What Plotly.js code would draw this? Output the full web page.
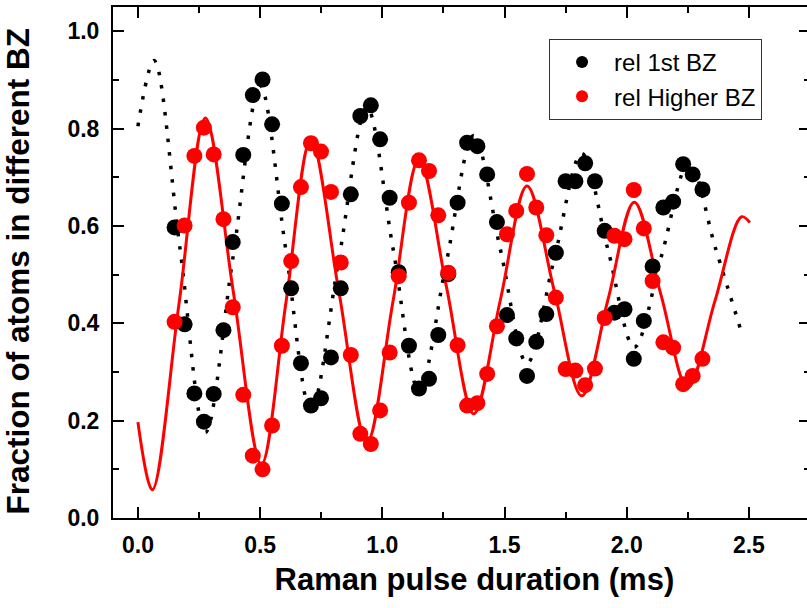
<!DOCTYPE html>
<html>
<head>
<meta charset="utf-8">
<script src="https://cdn.plot.ly/plotly-3.0.1.min.js"></script>
<style>
html,body{margin:0;padding:0;overflow:hidden;background:#fff;}
#chart{width:812px;height:608px;}
</style>
</head>
<body>
<div id="chart"></div>
<script>
// Measured data (Raman pulse duration in ms)
var tData = [0.150,0.191,0.231,0.270,0.310,0.350,0.388,0.431,0.470,0.510,0.549,0.589,0.627,0.667,0.708,0.749,0.790,0.830,0.871,0.910,0.953,0.991,1.030,1.067,1.109,1.150,1.191,1.229,1.270,1.308,1.347,1.389,1.429,1.469,1.510,1.548,1.592,1.630,1.671,1.710,1.750,1.790,1.830,1.870,1.910,1.950,1.991,2.029,2.070,2.106,2.150,2.190,2.231,2.270,2.310];
var first1BZ = [0.597,0.398,0.256,0.198,0.255,0.386,0.567,0.746,0.869,0.901,0.809,0.646,0.472,0.318,0.231,0.246,0.330,0.472,0.665,0.826,0.848,0.778,0.658,0.505,0.354,0.266,0.286,0.376,0.501,0.648,0.771,0.764,0.706,0.608,0.417,0.369,0.292,0.362,0.419,0.545,0.692,0.692,0.729,0.692,0.590,0.422,0.429,0.327,0.405,0.517,0.638,0.650,0.727,0.706,0.675];
var higherBZ = [0.403,0.601,0.744,0.802,0.747,0.614,0.433,0.253,0.128,0.100,0.190,0.354,0.528,0.680,0.770,0.753,0.670,0.525,0.335,0.173,0.152,0.221,0.340,0.497,0.648,0.735,0.713,0.622,0.504,0.355,0.231,0.236,0.296,0.394,0.583,0.631,0.707,0.638,0.581,0.453,0.306,0.303,0.273,0.307,0.411,0.580,0.573,0.674,0.595,0.487,0.361,0.350,0.275,0.292,0.327];

// Fit curves at extrema and mid-crossings
var tFitBlack = [0,0.066,0.171,0.276,0.388,0.500,0.604,0.708,0.822,0.937,1.044,1.150,1.262,1.374,1.483,1.592,1.704,1.816,1.924,2.031,2.143,2.255,2.363,2.470];
var vFitBlack = [0.805,0.940,0.558,0.176,0.532,0.888,0.555,0.222,0.532,0.843,0.553,0.263,0.525,0.786,0.552,0.318,0.534,0.749,0.550,0.351,0.540,0.730,0.555,0.381];
var tFitRed = [0,0.059,0.168,0.276,0.390,0.505,0.606,0.708,0.822,0.937,1.044,1.150,1.262,1.374,1.483,1.592,1.704,1.816,1.924,2.031,2.140,2.250,2.360,2.470,2.504];
var vFitRed = [0.197,0.058,0.440,0.822,0.466,0.110,0.444,0.778,0.466,0.155,0.446,0.737,0.476,0.214,0.448,0.682,0.466,0.251,0.450,0.649,0.459,0.268,0.444,0.619,0.607];

var seriesNames = ['rel 1st BZ','rel Higher BZ'];
var xTitle = 'Raman pulse duration (ms)';
var yTitle = 'Fraction of atoms in different BZ';

var FONT = 'Liberation Sans, Arial, Helvetica, sans-serif';
var PAD = '&nbsp;';

var traces = [
  {x: tFitBlack, y: vFitBlack, mode: 'lines', type: 'scatter', showlegend: false, hoverinfo: 'skip',
   line: {color: '#000000', width: 3.5, dash: '3.5px,10px', shape: 'spline', smoothing: 1}},
  {x: tFitRed, y: vFitRed, mode: 'lines', type: 'scatter', showlegend: false, hoverinfo: 'skip',
   line: {color: '#ff0000', width: 3, shape: 'spline', smoothing: 1}},
  {x: tData, y: first1BZ, mode: 'markers', type: 'scatter', name: seriesNames[0],
   marker: {color: '#000000', size: 16}},
  {x: tData, y: higherBZ, mode: 'markers', type: 'scatter', name: seriesNames[1],
   marker: {color: '#ff0000', size: 16}}
];

var axisCommon = {
  showgrid: false, zeroline: false, showline: true, linecolor: '#000', linewidth: 2,
  mirror: 'ticks', ticks: 'inside', ticklen: 11, tickwidth: 2, tickcolor: '#000',
  tickfont: {family: FONT, size: 23, color: '#000', weight: 'bold'}
};

var layout = {
  width: 812, height: 608,
  margin: {l: 113, r: 0, t: 7, b: 90},
  paper_bgcolor: '#fff', plot_bgcolor: '#fff',
  xaxis: Object.assign({}, axisCommon, {
    range: [-0.102, 2.75], tickvals: [0, 0.5, 1.0, 1.5, 2.0, 2.5],
    ticktext: ['0.0','0.5','1.0','1.5','2.0','2.5'], ticklabelstandoff: 5,
    minor: {dtick: 0.25, tick0: 0, ticks: 'inside', ticklen: 6, tickwidth: 2, tickcolor: '#000'},
    title: {text: PAD + PAD + PAD + xTitle, font: {family: FONT, size: 31, color: '#000', weight: 'bold'}, standoff: 12},
    automargin: true
  }),
  yaxis: Object.assign({}, axisCommon, {
    range: [0, 1.05], tickvals: [0, 0.2, 0.4, 0.6, 0.8, 1.0],
    ticktext: ['0.0','0.2','0.4','0.6','0.8','1.0'], ticklabelstandoff: 7,
    minor: {dtick: 0.1, tick0: 0, ticks: 'inside', ticklen: 6, tickwidth: 2, tickcolor: '#000'},
    title: {text: yTitle + PAD + PAD, font: {family: FONT, size: 31.5, color: '#000', weight: 'bold'}, standoff: 30},
    automargin: true
  }),
  legend: {
    x: 0.6256, y: 0.9374, xanchor: 'left', yanchor: 'top',
    bgcolor: '#fff', bordercolor: '#333', borderwidth: 1,
    font: {family: FONT, size: 24, color: '#000'},
    itemsizing: 'constant', itemwidth: 54
  },
  showlegend: true
};

Plotly.newPlot('chart', traces, layout, {staticPlot: true, displayModeBar: false});
</script>
</body>
</html>
